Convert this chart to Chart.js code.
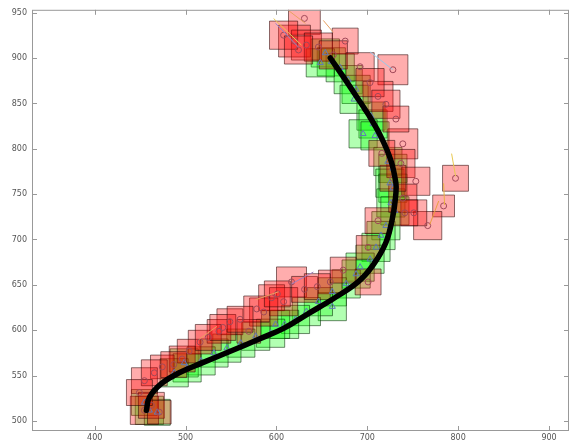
<!DOCTYPE html>
<html>
<head>
<meta charset="utf-8">
<script src="https://cdn.jsdelivr.net/npm/chart.js@4.4.1/dist/chart.umd.min.js"></script>
<style>
  html, body { margin: 0; padding: 0; background: #fff; }
  #wrap { width: 574px; height: 443px; }
</style>
</head>
<body>
<div id="wrap"><canvas id="chartTrack"></canvas></div>
<script>
// tick labels
const xTickVals = [400, 500, 600, 700, 800, 900];
const yTickVals = [500, 550, 600, 650, 700, 750, 800, 850, 900, 950];

// fitted track (black curve)
const curveX = [456.9, 460.2, 473.3, 493.0, 518.2, 549.9, 580.5, 607.9, 635.2, 662.6, 689.9, 706.3, 720.5, 728.2, 731.5, 731.5, 726.0, 715.1, 700.9, 686.6, 673.5, 659.3];
const curveY = [511.6, 525.8, 541.0, 553.0, 563.9, 577.0, 590.0, 602.0, 618.3, 634.7, 653.2, 671.7, 696.7, 726.1, 751.1, 762.1, 787.1, 813.2, 838.2, 860.0, 879.6, 900.2];

// red boxes (centre + side, data units), circle marks at the centre
const redX = [630.8, 619.9, 633.0, 607.9, 646.2, 675.7, 662.6, 728.2, 692.1, 711.8, 703.0, 720.5, 739.1, 737.0, 753.4, 797.1, 784.0, 766.5, 751.2, 711.8, 700.9, 739.1, 731.5, 700.9, 659.3, 673.5, 616.6, 594.7, 607.9, 586.0, 548.8, 578.3, 516.0, 569.6, 536.8, 496.3, 474.4, 454.7, 465.6, 454.7, 462.4, 471.1, 449.2, 503.9, 728.2, 741.3, 624.3, 525.0, 541.0, 560.0, 601.0, 631.0, 645.0, 487.0, 716.0];
const redY = [943.8, 918.8, 914.4, 925.3, 912.2, 918.8, 903.6, 887.2, 890.5, 857.8, 873.0, 849.1, 805.5, 783.8, 764.2, 767.5, 737.0, 715.3, 729.4, 720.7, 691.3, 745.5, 832.8, 653.2, 653.2, 666.2, 653.2, 635.8, 631.4, 620.0, 609.3, 623.4, 586.8, 598.7, 598.7, 568.2, 559.5, 544.3, 553.0, 511.6, 517.1, 509.5, 531.2, 576.9, 767.5, 729.4, 909.0, 592.0, 603.0, 612.0, 640.0, 645.0, 648.0, 562.0, 795.0];
const redSide = [35, 35, 33, 31, 31, 28.5, 31, 33, 31, 33, 31, 31, 33, 31, 31, 28.5, 24, 31, 28.5, 28.5, 26, 31, 28.5, 28.5, 26, 28.5, 33, 28.5, 31, 31, 28.5, 28.5, 26, 26, 26, 28.5, 26, 28.5, 28.5, 31, 28.5, 26, 28.5, 26, 28.5, 28.5, 31, 28.5, 28.5, 28.5, 28.5, 28.5, 28.5, 28.5, 28.5];

// green boxes, triangle marks at the centre
const greenX = [653.8, 660.4, 670.2, 679.0, 687.7, 685.5, 704.1, 706.3, 695.4, 708.5, 722.7, 728.2, 724.9, 728.2, 726.0, 730.4, 720.5, 715.1, 709.6, 703.0, 692.1, 687.7, 676.8, 661.5, 661.5, 646.2, 633.0, 621.0, 609.0, 599.1, 593.6, 577.2, 560.8, 545.5, 531.3, 517.1, 498.5, 501.7, 487.5, 460.2, 468.9, 454.7, 648.3];
const greenY = [905.7, 895.9, 889.4, 876.3, 865.5, 854.6, 836.1, 827.4, 816.5, 814.3, 786.0, 778.4, 762.1, 756.6, 740.3, 731.6, 715.2, 704.4, 691.3, 678.2, 669.5, 661.9, 651.0, 642.3, 626.0, 631.4, 620.5, 611.8, 606.4, 606.4, 596.6, 593.3, 585.7, 580.2, 574.8, 566.1, 563.9, 558.4, 553.0, 511.6, 509.4, 520.3, 894.8];
const greenSide = [31, 31, 31, 31, 31, 31, 31, 31, 31, 31, 31, 31, 31, 31, 31, 31, 31, 31, 31, 31, 31, 31, 31, 31, 31, 31, 31, 31, 31, 31, 31, 31, 31, 31, 31, 31, 31, 31, 31, 31, 28.5, 28.5, 31];

// short displacement segments [x1, y1, x2, y2]
const segments = [
  [596.9, 943.7, 627.6, 914.3],
  [599.1, 938.3, 624.3, 912.1],
  [613.3, 952.5, 631.9, 938.3],
  [651.6, 941.6, 662.6, 928.5],
  [703.1, 906.8, 728.2, 887.2],
  [792.8, 794.7, 797.2, 769.6],
  [784.0, 762.0, 785.1, 738.1],
  [778.6, 742.4, 768.7, 716.3],
  [616.6, 651.0, 640.7, 664.1],
  [514.9, 590.0, 534.6, 604.2],
  [577.2, 633.6, 602.4, 642.3]
];
const segColors = ['#e8c850', '#9088c8', '#e8a060', '#e8a060', '#98c8e8', '#e8c850', '#e8b040', '#e8a040', '#a080c0', '#e8a060', '#e8a060'];

const xMin = 331, xMax = 922, yMin = 488.8, yMax = 953.3;

function pts(xs, ys) {
  return xs.map((x, i) => ({ x: x, y: ys[i] }));
}

function boxRadius(sides) {
  return function (ctx) {
    const sc = ctx.chart.scales.x;
    const s = sides[ctx.dataIndex] || 30;
    const w = Math.abs(sc.getPixelForValue(xMin + s) - sc.getPixelForValue(xMin));
    return w / Math.SQRT2;
  };
}

const datasets = [];

datasets.push({
  type: 'line',
  label: 'track',
  data: pts(curveX, curveY),
  borderColor: '#000',
  borderWidth: 5.5,
  borderCapStyle: 'round',
  pointRadius: 0,
  tension: 0.4,
  fill: false,
  order: 0
});

segments.forEach(function (s, i) {
  datasets.push({
    type: 'line',
    label: 'seg' + i,
    data: [{ x: s[0], y: s[1] }, { x: s[2], y: s[3] }],
    borderColor: segColors[i],
    borderWidth: 1,
    pointRadius: 0,
    fill: false,
    order: 1
  });
});

datasets.push({
  label: 'circles',
  data: pts(redX, redY),
  pointStyle: 'circle',
  pointRadius: 3,
  backgroundColor: 'rgba(0,0,0,0)',
  borderColor: '#a04858',
  borderWidth: 1,
  order: 2
});

datasets.push({
  label: 'triangles',
  data: pts(greenX, greenY),
  pointStyle: 'triangle',
  pointRadius: 3.5,
  backgroundColor: 'rgba(0,0,0,0)',
  borderColor: '#6078b8',
  borderWidth: 1,
  order: 2
});

datasets.push({
  label: 'red boxes',
  data: pts(redX, redY),
  pointStyle: 'rect',
  pointRadius: boxRadius(redSide),
  backgroundColor: 'rgba(255,0,0,0.32)',
  borderColor: 'rgba(40,0,0,0.55)',
  borderWidth: 1,
  order: 3
});

datasets.push({
  label: 'green boxes',
  data: pts(greenX, greenY),
  pointStyle: 'rect',
  pointRadius: boxRadius(greenSide),
  backgroundColor: 'rgba(0,255,0,0.3)',
  borderColor: 'rgba(0,40,0,0.55)',
  borderWidth: 1,
  order: 4
});

// box + inward ticks, matlab style
const frame = {
  id: 'frame',
  afterDatasetsDraw: function (chart) {
    const a = chart.chartArea, c = chart.ctx;
    const xs = chart.scales.x, ys = chart.scales.y;
    c.save();
    c.strokeStyle = '#999';
    c.lineWidth = 1;
    c.strokeRect(a.left + 0.5, a.top + 0.5, a.right - a.left - 1, a.bottom - a.top - 1);
    c.beginPath();
    xs.ticks.forEach(function (t) {
      const p = Math.round(xs.getPixelForValue(t.value)) + 0.5;
      c.moveTo(p, a.bottom); c.lineTo(p, a.bottom - 5);
      c.moveTo(p, a.top); c.lineTo(p, a.top + 5);
    });
    ys.ticks.forEach(function (t) {
      const p = Math.round(ys.getPixelForValue(t.value)) + 0.5;
      c.moveTo(a.left, p); c.lineTo(a.left + 5, p);
      c.moveTo(a.right, p); c.lineTo(a.right - 5, p);
    });
    c.stroke();
    c.restore();
  }
};

new Chart(document.getElementById('chartTrack'), {
  type: 'scatter',
  data: { datasets: datasets },
  options: {
    responsive: true,
    maintainAspectRatio: false,
    animation: false,
    events: [],
    layout: { padding: { top: 4, right: 2, left: 0, bottom: 0 } },
    plugins: {
      legend: { display: false },
      tooltip: { enabled: false }
    },
    scales: {
      x: {
        type: 'linear',
        min: xMin,
        max: xMax,
        grid: { display: false, drawTicks: false },
        border: { display: false },
        afterBuildTicks: function (s) { s.ticks = xTickVals.map(v => ({ value: v })); },
        ticks: {
          padding: 2,
          color: '#555',
          font: { family: 'DejaVu Sans', size: 8 },
          maxRotation: 0,
          autoSkip: false
        },
        afterFit: function (s) { s.height = 12; }
      },
      y: {
        type: 'linear',
        min: yMin,
        max: yMax,
        grid: { display: false, drawTicks: false },
        border: { display: false },
        afterBuildTicks: function (s) { s.ticks = yTickVals.map(v => ({ value: v })); },
        ticks: {
          padding: 5,
          color: '#555',
          font: { family: 'DejaVu Sans', size: 8 },
          autoSkip: false
        },
        afterFit: function (s) { s.width = 32; }
      }
    }
  },
  plugins: [frame]
});
</script>
</body>
</html>
